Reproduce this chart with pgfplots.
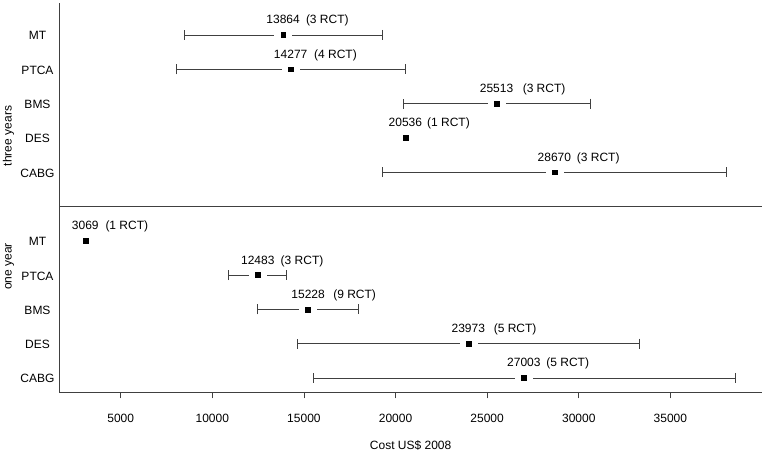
\documentclass[border=0pt]{standalone}
\usepackage{pgfplots}
\pgfplotsset{compat=1.18}
\usepackage{fontspec}
\setmainfont{Liberation Sans}
\definecolor{ln}{gray}{0.25}
\newcommand{\lab}[4]{%
  \node[anchor=base] at (axis cs:#1,#2) [yshift=11bp] {#1};
  \node[anchor=base west, inner sep=0pt] at (axis cs:#1,#2) [xshift=#4bp, yshift=11bp] {(#3 RCT)};}
\begin{document}
\fontsize{12bp}{14bp}\selectfont
\begin{tikzpicture}
\path[use as bounding box] (0,0) rectangle (765bp,455bp);
\begin{axis}[
  at={(59.3bp,62.7bp)}, anchor=south west,
  scale only axis, width=702.7bp, height=389bp,
  xmin=1650, xmax=40000, ymin=0.583, ymax=11.924,
  axis x line*=bottom, axis y line*=left,
  axis line style={-, ln, line width=0.8bp},
  clip=false,
  xtick={5000,10000,...,35000},
  scaled x ticks=false,
  /pgf/number format/assume math mode=true,
  /pgf/number format/1000 sep={},
  tick align=outside, major tick length=6bp,
  xtick style={ln, line width=0.8bp},
  ytick={1,2,3,4,5,7,8,9,10,11},
  yticklabels={CABG,DES,BMS,PTCA,MT,CABG,DES,BMS,PTCA,MT},
  ytick style={draw=none},
  yticklabel style={anchor=base, xshift=-15.8bp, yshift=-5bp},
  xticklabel style={anchor=base, yshift=-24.5bp},
]
\addplot[ln, only marks, mark=*, mark size=0.01bp, error bars/.cd, x dir=both, x explicit,
  error mark=|,
  error bar style={draw=ln, line width=0.8bp},
  error mark options={draw=ln, line width=0.8bp, mark size=5bp}]
  table[x=x, y=y, x error plus=ep, x error minus=em] {
x y ep em
13864 11 5416 5409
14277 10 6241 6220
25513 9 5103 5087
28670 7 9408 9390
12483 4 1578 1588
15228 3 2742 2750
23973 2 9335 9333
27003 1 11528 11490
};
\addplot[white, only marks, mark=square*, mark size=8.5bp]
  table {
x y
13864 11
14277 10
25513 9
28670 7
12483 4
15228 3
23973 2
27003 1
};
\addplot[black, only marks, mark=square*, mark size=2.4bp]
  table {
x y
13864 11
14277 10
25513 9
20536 8
28670 7
3069 5
12483 4
15228 3
23973 2
27003 1
};
\addplot[ln, line width=0.8bp] coordinates {(1650,6) (40000,6)};
\lab{13864}{11}{3}{22.7}
\lab{14277}{10}{4}{23.3}
\lab{25513}{9}{3}{26}
\lab{20536}{8}{1}{21.6}
\lab{28670}{7}{3}{22.3}
\lab{3069}{5}{1}{20}
\lab{12483}{4}{3}{22.7}
\lab{15228}{3}{9}{25}
\lab{23973}{2}{5}{25.3}
\lab{27003}{1}{5}{22.3}
\node[anchor=base] at (rel axis cs:0.5,0) [yshift=-57.4bp] {Cost US\$ 2008};
\end{axis}
\node[rotate=90, anchor=base] at (11.5bp,319bp) {three years};
\node[rotate=90, anchor=base] at (11.5bp,188.5bp) {one year};
\end{tikzpicture}
\end{document}
